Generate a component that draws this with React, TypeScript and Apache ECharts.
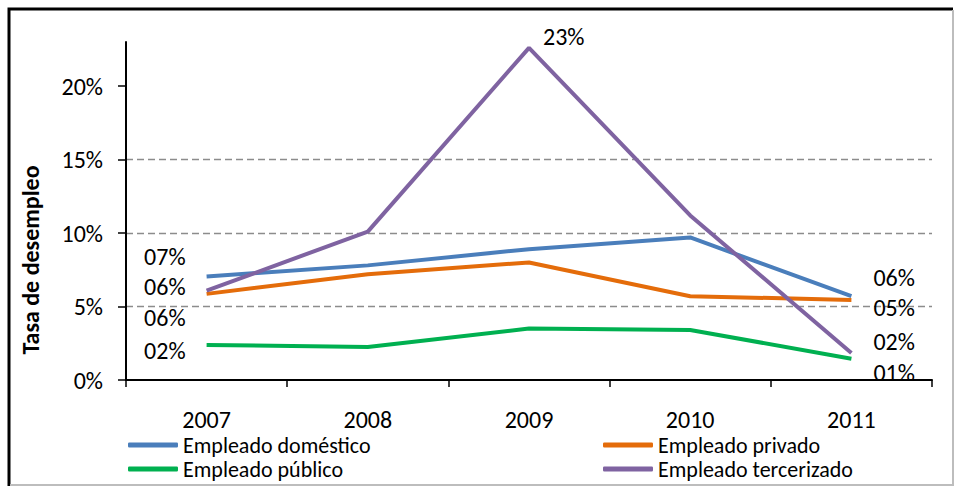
import React, { useEffect, useRef } from "react";
import * as echarts from "echarts";

const years = ["2007", "2008", "2009", "2010", "2011"];
const seriesNames = ["Empleado doméstico", "Empleado privado", "Empleado público", "Empleado tercerizado"];
const domestico = [7.04, 7.8, 8.9, 9.7, 5.7];
const privado = [5.86, 7.2, 8.0, 5.7, 5.45];
const publico = [2.38, 2.25, 3.5, 3.4, 1.45];
const tercerizado = [6.08, 10.1, 22.6, 11.2, 1.84];
const yTicks = [0, 5, 10, 15, 20];

const colors = ["#4A7EBB", "#E46C0A", "#00B050", "#7F63A1"];
const FONT = 'Carlito, "Liberation Sans", Arial, sans-serif';

// label placement (style only): [index, position, distance, dy]
const labelStyles: Array<Array<[number, string, number, number]>> = [
  [[0, "left", 21, -20], [4, "right", 22, -19]],
  [[0, "left", 21, 24], [4, "right", 22, 8]],
  [[0, "left", 21, 5], [4, "right", 22, 14]],
  [[0, "left", 21, -4], [2, "right", 14, -11], [4, "right", 22, -11]],
];
// legend placement (style only): [left, top]
const legendPos: Array<[number, number]> = [
  [128, 434],
  [603, 434],
  [128, 458],
  [603, 458],
];

const fmt = (v: number) => String(Math.round(v)).padStart(2, "0") + "%";

export default function App() {
  const ref = useRef<HTMLDivElement>(null);
  useEffect(() => {
    if (!ref.current) return;
    const chart = echarts.init(ref.current, undefined, { renderer: "svg" });
    const all = [domestico, privado, publico, tercerizado];
    const series = all.map((vals, si) => ({
      name: seriesNames[si],
      type: "line",
      symbol: "circle",
      symbolSize: 0,
      showSymbol: true,
      lineStyle: { color: colors[si], width: 4 },
      itemStyle: { color: colors[si] },
      z: si === 3 ? 5 : 3,
      data: vals.map((v, i) => {
        const ls = labelStyles[si].find((l) => l[0] === i);
        if (!ls) return v;
        return {
          value: v,
          label: {
            show: true,
            position: ls[1],
            distance: ls[2],
            offset: [0, ls[3]],
            formatter: (p: any) => fmt(p.value),
            color: "#000",
            fontSize: 24,
            lineHeight: 22,
            fontFamily: FONT,
          },
        };
      }),
    }));
    chart.setOption({
      animation: false,
      backgroundColor: "#fff",
      textStyle: { fontFamily: FONT },
      grid: { left: 126, right: 22, top: 42, bottom: 108 },
      xAxis: {
        type: "category",
        data: years,
        boundaryGap: true,
        axisLine: { lineStyle: { color: "#000", width: 2 } },
        axisTick: { show: true, length: 7, lineStyle: { color: "#000", width: 1.5 } },
        axisLabel: { color: "#000", fontSize: 24, lineHeight: 20, margin: 29, fontFamily: FONT },
        splitLine: { show: false },
      },
      yAxis: {
        type: "value",
        min: 0,
        max: 23,
        interval: 5,
        axisLine: { show: true, lineStyle: { color: "#000", width: 2 } },
        axisTick: { show: true, length: 8, lineStyle: { color: "#000", width: 1.5 }, customValues: yTicks },
        axisLabel: {
          color: "#000",
          fontSize: 24,
          margin: 23,
          fontFamily: FONT,
          customValues: yTicks,
          formatter: (v: number) => v + "%",
        },
        splitLine: {
          show: true,
          showMinLine: false,
          showMaxLine: false,
          lineStyle: { color: "#8c8c8c", width: 1.3, type: [7, 4] },
        },
      },
      legend: seriesNames.map((n, i) => ({
        left: legendPos[i][0],
        top: legendPos[i][1],
        padding: 0,
        icon: "roundRect",
        itemWidth: 50,
        itemHeight: 5,
        data: [n],
        textStyle: { color: "#000", fontSize: 22, lineHeight: 20, fontFamily: FONT },
      })),
      graphic: [
        {
          type: "polyline",
          shape: { points: [[9, 486], [9, 9], [953, 9]] },
          style: { stroke: "#000", lineWidth: 3, fill: "none" },
          silent: true,
        },
        {
          type: "polyline",
          shape: { points: [[953, 10], [953, 485], [10, 485]] },
          style: { stroke: "#bdbdbd", lineWidth: 2, fill: "none" },
          silent: true,
        },
        {
          type: "text",
          x: 30,
          y: 260,
          rotation: Math.PI / 2,
          style: {
            text: "Tasa de desempleo",
            fontSize: 24,
            fontWeight: "bold",
            fontFamily: FONT,
            fill: "#000",
            align: "center",
            verticalAlign: "middle",
          },
        },
      ],
      series,
    });
    return () => chart.dispose();
  }, []);
  return <div ref={ref} style={{ width: 954, height: 488, position: "absolute", left: 0, top: 0 }} />;
}
